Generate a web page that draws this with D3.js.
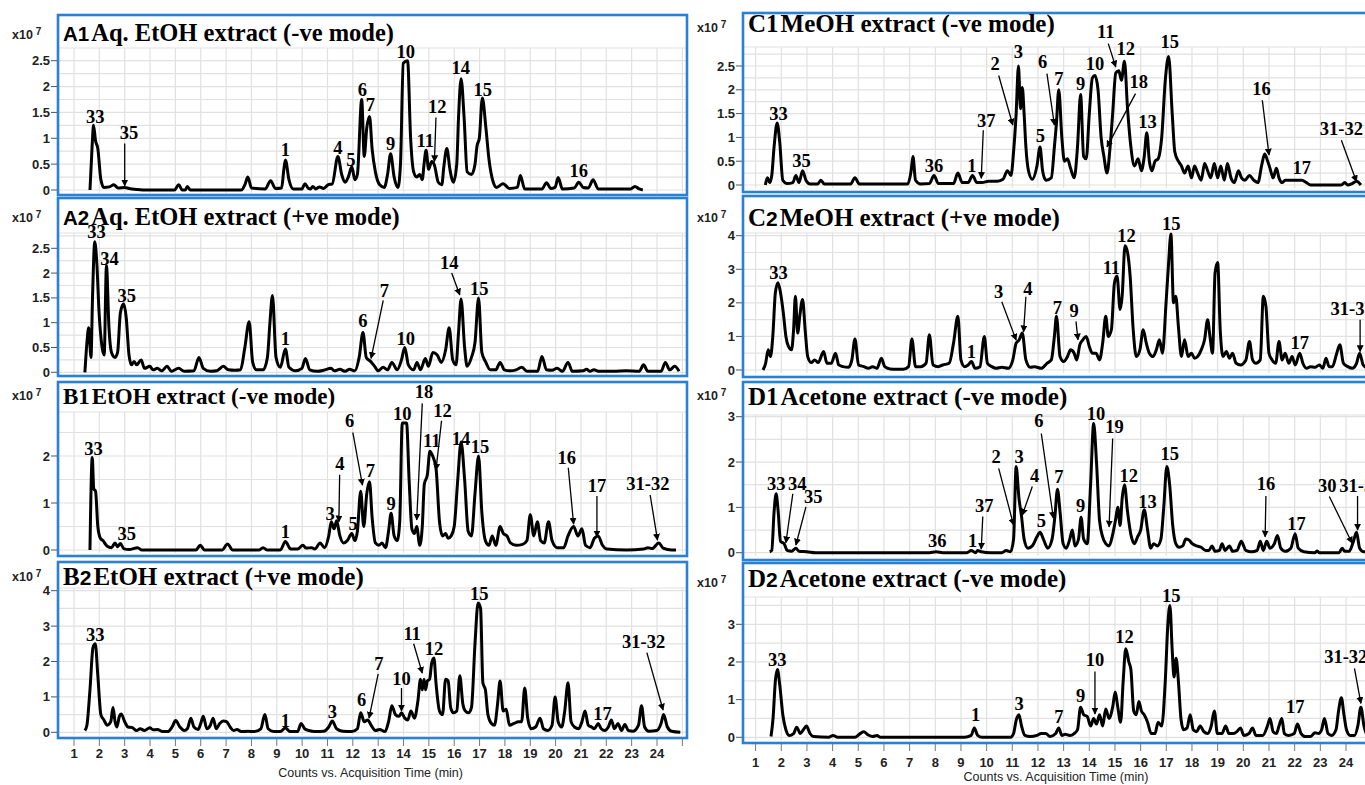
<!DOCTYPE html>
<html>
<head>
<meta charset="utf-8">
<script src="https://cdn.jsdelivr.net/npm/d3@7"></script>
<style>
body{margin:0;background:#fff;}
svg{display:block;}
</style>
</head>
<body>
<script>
// chromatograms, intensity in x10^7 counts, time in min
const a1Trace=[[1.63,0],[1.72,0.9],[1.77,1.25],[1.85,0.95],[1.94,0.8],[2.06,0.2],[2.18,0.05],[2.40,0.06],[2.57,0.1],[2.74,0.04],[3.00,0.05],[3.17,0.03],[3.51,0.01],[3.85,0],[4.96,0],[5.13,0.1],[5.27,0],[5.39,0],[5.47,0.07],[5.59,0],[7.60,0],[7.74,0.1],[7.86,0.25],[8.00,0.04],[8.54,0.02],[8.76,0.18],[8.94,0.03],[9.19,0.04],[9.28,0.4],[9.34,0.58],[9.48,0.2],[9.65,0.02],[9.99,0.02],[10.11,0.12],[10.25,0.03],[10.33,0.02],[10.42,0.07],[10.54,0.02],[10.68,0.06],[10.85,0.03],[11.02,0.1],[11.19,0.12],[11.41,0.65],[11.56,0.3],[11.70,0.15],[11.82,0.25],[11.96,0.45],[12.08,0.2],[12.18,0.3],[12.35,1.75],[12.45,0.65],[12.55,1.2],[12.66,1.42],[12.76,0.8],[12.89,0.35],[13.06,0.1],[13.24,0.05],[13.37,0.3],[13.49,0.7],[13.63,0.25],[13.78,0.05],[13.88,0.5],[13.99,2.45],[14.16,2.5],[14.28,1.0],[14.40,0.35],[14.52,0.25],[14.64,0.3],[14.74,0.2],[14.81,0.5],[14.89,0.77],[14.99,0.4],[15.11,0.55],[15.22,0.48],[15.37,0.15],[15.51,0.1],[15.59,0.45],[15.71,0.8],[15.83,0.4],[15.97,0.15],[16.10,0.5],[16.17,1.4],[16.27,2.15],[16.39,1.4],[16.51,0.35],[16.68,0.3],[16.82,0.5],[16.90,0.85],[16.99,1.0],[17.11,1.78],[17.25,1.2],[17.37,0.6],[17.54,0.15],[17.67,0.05],[17.93,0.12],[18.18,0.03],[18.49,0.05],[18.61,0.28],[18.78,0.02],[19.46,0.02],[19.64,0.14],[19.81,0.03],[19.98,0.05],[20.10,0.24],[20.27,0.02],[20.74,0.04],[20.91,0.15],[21.09,0.05],[21.29,0.04],[21.48,0.2],[21.68,0.02],[22.96,0.02],[23.13,0.07],[23.30,0.02],[23.44,0]];
const a1Labels=[["33",1.84,1.3],["35",3.17,0.98],["1",9.34,0.66],["4",11.41,0.7],["5",11.92,0.47],["6",12.38,1.82],["7",12.69,1.52],["9",13.49,0.77],["10",14.09,2.56],["11",14.86,0.84],["12",15.33,1.48],["14",16.26,2.24],["15",17.13,1.82],["16",20.91,0.25]];
const a1Arrows=[[3.0,0.9,3.0,0.08],[15.28,1.4,15.22,0.55]];

const a2Trace=[[1.43,0],[1.51,0.6],[1.58,0.9],[1.67,0.3],[1.73,1.5],[1.82,2.63],[1.90,2.2],[1.99,1.2],[2.11,0.5],[2.19,0.35],[2.28,2.15],[2.38,0.9],[2.48,0.4],[2.62,0.3],[2.72,0.4],[2.83,1.2],[2.96,1.38],[3.06,1.1],[3.17,0.35],[3.27,0.15],[3.37,0.22],[3.47,0.15],[3.65,0.25],[3.78,0.08],[3.99,0.12],[4.12,0.05],[4.29,0.08],[4.46,0.03],[4.67,0.12],[4.84,0.02],[5.13,0.08],[5.35,0.02],[5.73,0.03],[5.93,0.3],[6.10,0.08],[6.38,0.02],[6.63,0.03],[6.89,0.12],[7.09,0.05],[7.35,0.04],[7.57,0.05],[7.74,0.5],[7.91,1.02],[8.05,0.2],[8.20,0.05],[8.46,0.05],[8.63,0.3],[8.73,1.0],[8.83,1.55],[8.97,0.3],[9.14,0.1],[9.34,0.47],[9.48,0.1],[9.74,0.03],[9.99,0.08],[10.13,0.28],[10.30,0.05],[10.59,0.02],[10.85,0.04],[11.14,0.08],[11.27,0.03],[11.49,0.06],[11.70,0.02],[11.87,0.06],[12.08,0.03],[12.25,0.3],[12.40,0.8],[12.53,0.3],[12.70,0.22],[12.86,0.12],[13.00,0.03],[13.20,0.1],[13.37,0.05],[13.54,0.2],[13.75,0.05],[13.92,0.25],[14.05,0.5],[14.19,0.15],[14.40,0.05],[14.53,0.2],[14.67,0.05],[14.86,0.28],[14.98,0.12],[15.16,0.4],[15.33,0.35],[15.49,0.2],[15.66,0.45],[15.80,0.9],[15.94,0.25],[16.07,0.15],[16.17,0.8],[16.27,1.48],[16.41,0.5],[16.51,0.12],[16.68,0.3],[16.82,0.6],[16.96,1.5],[17.09,0.4],[17.25,0.2],[17.42,0.05],[17.64,0.05],[17.81,0.2],[17.98,0.05],[18.22,0.03],[18.44,0.05],[18.66,0.1],[18.87,0.02],[19.29,0.02],[19.46,0.32],[19.64,0.05],[19.86,0.04],[20.06,0.08],[20.27,0.02],[20.49,0.2],[20.66,0.02],[21.09,0.03],[21.22,0.06],[21.36,0.02],[21.51,0.05],[21.72,0.02],[22.28,0.02],[22.79,0.03],[23.30,0.02],[23.47,0.15],[23.64,0.02],[24.16,0.02],[24.33,0.2],[24.50,0.05],[24.70,0.12],[24.87,0.02]];
const a2Labels=[["33",1.89,2.7],["34",2.40,2.16],["35",3.08,1.42],["1",9.34,0.55],["6",12.40,0.92],["7",13.24,1.52],["10",14.09,0.55],["14",15.80,2.09],["15",16.99,1.56]];
const a2Arrows=[[13.2,1.45,12.72,0.28],[15.9,2.0,16.22,1.56]];

const b1Trace=[[1.63,0],[1.72,1.97],[1.78,1.3],[1.85,1.25],[1.94,0.5],[2.04,0.25],[2.14,0.2],[2.31,0.08],[2.48,0.05],[2.62,0.15],[2.72,0.07],[2.83,0.14],[2.96,0.03],[3.17,0.01],[3.51,0.05],[3.68,0],[5.81,0],[5.98,0.1],[6.15,0],[6.84,0],[7.06,0.13],[7.26,0],[8.29,0],[8.46,0.05],[8.63,0],[9.14,0],[9.34,0.18],[9.55,0.02],[9.82,0.02],[10.03,0.1],[10.16,0.04],[10.37,0.05],[10.50,0.02],[10.71,0.15],[10.88,0.05],[11.05,0.3],[11.15,0.6],[11.26,0.45],[11.36,0.62],[11.49,0.3],[11.63,0.15],[11.78,0.2],[11.96,0.35],[12.08,0.2],[12.18,0.4],[12.31,1.25],[12.43,0.5],[12.55,1.2],[12.66,1.45],[12.76,0.7],[12.89,0.15],[13.03,0.1],[13.15,0.15],[13.29,0.05],[13.41,0.4],[13.51,0.78],[13.63,0.3],[13.75,0.2],[13.85,0.6],[13.95,2.7],[14.12,2.7],[14.22,1.5],[14.33,0.45],[14.43,0.35],[14.52,0.5],[14.64,0.1],[14.74,0.5],[14.82,1.4],[14.94,1.6],[15.04,2.1],[15.15,2.0],[15.28,1.75],[15.42,0.6],[15.54,0.3],[15.66,0.35],[15.76,0.25],[15.88,0.3],[16.00,0.5],[16.14,1.5],[16.27,2.3],[16.41,1.5],[16.55,0.4],[16.68,0.3],[16.82,1.2],[16.96,2.0],[17.09,0.8],[17.23,0.2],[17.37,0.1],[17.50,0.3],[17.64,0.1],[17.81,0.5],[17.94,0.35],[18.08,0.3],[18.22,0.15],[18.44,0.1],[18.70,0.12],[18.87,0.2],[19.00,0.75],[19.14,0.3],[19.28,0.6],[19.41,0.2],[19.55,0.15],[19.72,0.6],[19.86,0.2],[20.06,0.05],[20.32,0.05],[20.49,0.3],[20.71,0.5],[20.88,0.3],[21.04,0.45],[21.18,0.1],[21.36,0.05],[21.53,0.25],[21.68,0.3],[21.85,0.1],[22.02,0.02],[22.79,0],[23.47,0.02],[23.64,0.05],[23.81,0.03],[24.07,0.15],[24.24,0.04],[24.58,0],[24.75,0]];
const b1Labels=[["33",1.77,2.02],["35",3.08,0.21],["1",9.34,0.25],["3",11.10,0.64],["4",11.49,1.7],["5",12.01,0.43],["6",11.87,2.62],["7",12.69,1.56],["9",13.51,0.85],["10",13.95,2.77],["18",14.81,3.23],["12",15.54,2.84],["11",15.11,2.2],["14",16.27,2.23],["15",17.02,2.06],["16",20.44,1.84],["17",21.63,1.24],["31-32",23.64,1.28]];
const b1Arrows=[[11.48,1.6,11.45,0.6],[12.0,2.5,12.38,1.38],[14.74,3.12,14.52,0.64],[15.5,2.75,15.28,1.7],[20.5,1.75,20.71,0.55],[21.63,1.15,21.63,0.28],[23.73,1.17,24.02,0.21]];

const b2Trace=[[1.43,0.05],[1.51,0.2],[1.63,1.2],[1.75,2.4],[1.84,2.5],[1.94,1.6],[2.06,0.5],[2.18,0.35],[2.31,0.2],[2.45,0.3],[2.54,0.7],[2.62,0.3],[2.69,0.15],[2.79,0.45],[2.86,0.52],[3.00,0.3],[3.13,0.15],[3.30,0.13],[3.47,0.05],[3.61,0.1],[3.78,0.05],[3.99,0.13],[4.12,0.07],[4.29,0.08],[4.50,0.02],[4.70,0.02],[4.87,0.15],[5.01,0.33],[5.18,0.15],[5.35,0.05],[5.47,0.1],[5.61,0.4],[5.73,0.15],[5.90,0.08],[6.00,0.25],[6.10,0.45],[6.24,0.1],[6.38,0.2],[6.49,0.4],[6.61,0.1],[6.75,0.25],[6.89,0.32],[7.02,0.3],[7.16,0.15],[7.30,0.05],[7.43,0.08],[7.60,0.02],[7.86,0.03],[8.12,0.02],[8.37,0.1],[8.53,0.5],[8.66,0.1],[8.88,0.02],[9.14,0.02],[9.34,0.12],[9.52,0.02],[9.82,0.02],[9.96,0.25],[10.10,0.1],[10.27,0.05],[10.50,0.02],[10.85,0.03],[11.05,0.15],[11.19,0.32],[11.36,0.1],[11.61,0.03],[11.96,0.02],[12.18,0.1],[12.31,0.55],[12.45,0.3],[12.59,0.35],[12.72,0.2],[12.89,0.05],[13.06,0.08],[13.27,0.02],[13.41,0.3],[13.54,0.75],[13.68,0.5],[13.82,0.45],[13.92,0.55],[14.05,0.4],[14.17,0.35],[14.29,0.6],[14.43,0.4],[14.57,0.9],[14.67,1.5],[14.74,1.2],[14.81,1.5],[14.87,1.2],[14.94,1.45],[15.03,1.5],[15.11,1.95],[15.20,2.1],[15.28,1.4],[15.42,0.6],[15.54,0.5],[15.66,1.5],[15.76,1.45],[15.86,0.7],[15.97,0.55],[16.10,0.6],[16.22,1.6],[16.34,0.8],[16.44,0.6],[16.56,0.55],[16.68,0.7],[16.82,2.5],[16.94,3.65],[17.04,3.5],[17.13,1.4],[17.23,1.2],[17.33,0.5],[17.47,0.25],[17.59,0.2],[17.71,0.8],[17.81,1.45],[17.93,0.6],[18.05,0.65],[18.18,0.2],[18.36,0.25],[18.53,0.3],[18.66,0.3],[18.78,1.25],[18.90,0.4],[19.04,0.1],[19.21,0.15],[19.39,0.4],[19.52,0.1],[19.69,0.05],[19.86,0.2],[19.98,1.0],[20.10,0.3],[20.24,0.15],[20.36,0.6],[20.49,1.4],[20.61,0.3],[20.74,0.15],[20.91,0.1],[21.04,0.3],[21.16,0.6],[21.29,0.2],[21.42,0.15],[21.53,0.1],[21.68,0.25],[21.80,0.1],[21.94,0.05],[22.08,0.15],[22.20,0.35],[22.32,0.1],[22.46,0.25],[22.60,0.05],[22.73,0.22],[22.87,0.05],[23.06,0.03],[23.27,0.2],[23.39,0.75],[23.51,0.15],[23.68,0.03],[23.99,0.05],[24.16,0.25],[24.26,0.5],[24.41,0.15],[24.58,0.03],[24.92,0]];
const b2Labels=[["33",1.84,2.57],["1",9.34,0.16],["3",11.19,0.4],["6",12.35,0.73],["7",13.03,1.76],["10",13.92,1.34],["11",14.34,2.61],["12",15.20,2.19],["15",16.99,3.75],["17",21.85,0.35],["31-32",23.47,2.38]];
const b2Arrows=[[13.0,1.65,12.64,0.4],[13.92,1.25,13.92,0.6],[14.4,2.5,14.74,1.67],[23.6,2.25,24.24,0.63]];

const c1Trace=[[1.38,0],[1.46,0.15],[1.55,0.05],[1.63,0.2],[1.72,0.8],[1.84,1.3],[1.94,0.9],[2.06,0.1],[2.23,0.03],[2.45,0.05],[2.57,0.2],[2.69,0.05],[2.83,0.3],[2.96,0.1],[3.13,0.02],[3.42,0.02],[3.54,0.1],[3.68,0.02],[4.70,0.02],[4.87,0.15],[5.04,0.02],[6.92,0.02],[7.06,0.3],[7.13,0.6],[7.23,0.1],[7.43,0.02],[7.77,0.03],[7.95,0.2],[8.12,0.03],[8.71,0.03],[8.88,0.25],[9.05,0.05],[9.28,0.05],[9.45,0.2],[9.62,0.05],[9.82,0.05],[10.08,0.08],[10.42,0.08],[10.64,0.12],[10.81,0.3],[10.95,0.2],[11.05,0.7],[11.15,1.5],[11.24,2.5],[11.32,1.6],[11.39,2.05],[11.46,1.5],[11.53,0.8],[11.63,0.3],[11.78,0.12],[11.96,0.4],[12.08,0.8],[12.18,0.3],[12.31,0.1],[12.52,0.15],[12.64,0.8],[12.72,1.3],[12.81,2.0],[12.93,1.0],[13.03,0.5],[13.15,0.55],[13.27,0.35],[13.41,0.15],[13.54,0.8],[13.66,1.9],[13.78,0.6],[13.88,0.55],[14.00,1.5],[14.12,2.25],[14.22,2.3],[14.34,2.0],[14.46,1.0],[14.57,0.6],[14.69,0.25],[14.81,0.8],[14.91,1.5],[15.03,2.35],[15.15,2.4],[15.25,2.2],[15.37,2.6],[15.49,1.6],[15.62,0.8],[15.76,0.4],[15.90,0.55],[16.03,0.3],[16.14,0.6],[16.24,1.1],[16.34,0.5],[16.44,0.3],[16.56,0.5],[16.68,0.55],[16.82,1.0],[16.96,2.2],[17.09,2.7],[17.23,1.5],[17.33,0.7],[17.47,0.5],[17.59,0.4],[17.71,0.25],[17.85,0.4],[17.98,0.15],[18.10,0.4],[18.22,0.25],[18.36,0.1],[18.49,0.45],[18.61,0.3],[18.73,0.15],[18.87,0.45],[19.00,0.15],[19.12,0.4],[19.26,0.1],[19.38,0.45],[19.52,0.15],[19.65,0.05],[19.81,0.3],[19.93,0.15],[20.06,0.1],[20.24,0.2],[20.41,0.1],[20.57,0.05],[20.71,0.4],[20.83,0.65],[20.95,0.5],[21.04,0.35],[21.16,0.15],[21.29,0.35],[21.39,0.15],[21.51,0.05],[21.63,0.1],[22.28,0.1],[22.46,0.05],[22.62,0],[23.82,0],[23.95,0.05],[24.07,0],[24.24,0.03],[24.41,0.08],[24.58,0]];
const c1Labels=[["33",1.89,1.36],["35",2.79,0.38],["36",7.95,0.28],["1",9.43,0.28],["37",9.99,1.22],["2",10.33,2.41],["3",11.24,2.66],["5",12.09,0.91],["6",12.18,2.45],["7",12.81,2.1],["9",13.66,1.99],["10",14.22,2.41],["11",14.64,3.08],["12",15.42,2.73],["18",15.93,2.03],["13",16.27,1.19],["15",17.13,2.87],["16",20.71,1.89],["17",22.28,0.24],["31-32",23.82,1.05]];
const c1Arrows=[[9.87,1.15,9.79,0.14],[10.47,2.3,11.02,1.26],[12.35,2.34,12.64,1.26],[14.74,2.97,15.03,2.48],[15.8,1.92,14.69,0.8],[20.74,1.78,21.0,0.63],[23.82,0.94,24.41,0.07]];

const c2Trace=[[1.29,0],[1.39,0.2],[1.49,0.6],[1.58,0.4],[1.67,1.0],[1.77,2.3],[1.87,2.6],[1.97,2.3],[2.08,1.7],[2.18,1.0],[2.28,0.7],[2.40,0.6],[2.48,1.2],[2.55,2.2],[2.64,1.1],[2.72,1.6],[2.83,2.1],[2.93,1.2],[3.03,0.4],[3.17,0.22],[3.30,0.3],[3.44,0.22],[3.65,0.55],[3.78,0.2],[3.95,0.2],[4.11,0.5],[4.24,0.15],[4.40,0.1],[4.62,0.08],[4.75,0.3],[4.87,0.92],[5.01,0.15],[5.22,0.1],[5.39,0.05],[5.56,0.1],[5.73,0.05],[5.90,0.35],[6.03,0.1],[6.24,0.03],[6.49,0.02],[6.75,0.02],[6.96,0.1],[7.09,0.92],[7.23,0.1],[7.43,0.1],[7.64,0.2],[7.77,1.05],[7.91,0.15],[8.12,0.1],[8.29,0.15],[8.54,0.2],[8.71,0.8],[8.88,1.6],[9.00,0.3],[9.14,0.1],[9.28,0.15],[9.41,0.25],[9.55,0.05],[9.74,0.1],[9.91,1.0],[10.03,0.2],[10.20,0.1],[10.37,0.05],[10.59,0.08],[10.85,0.05],[11.02,0.3],[11.15,0.8],[11.27,0.9],[11.39,1.1],[11.53,0.3],[11.70,0.08],[11.87,0.1],[12.13,0.05],[12.35,0.2],[12.52,0.3],[12.64,1.0],[12.72,1.6],[12.86,0.4],[13.00,0.25],[13.15,0.4],[13.27,0.6],[13.41,0.5],[13.51,0.3],[13.63,0.75],[13.75,0.9],[13.88,1.0],[14.00,0.7],[14.12,0.5],[14.26,0.5],[14.40,0.3],[14.52,0.8],[14.64,1.6],[14.74,1.0],[14.86,1.2],[14.98,2.6],[15.08,2.8],[15.20,1.8],[15.28,2.2],[15.39,3.7],[15.49,3.5],[15.59,2.8],[15.71,1.2],[15.83,0.4],[15.97,0.6],[16.10,1.2],[16.22,0.8],[16.34,0.5],[16.48,0.4],[16.61,0.6],[16.73,0.9],[16.85,0.5],[16.99,2.0],[17.09,3.2],[17.18,4.05],[17.28,2.0],[17.37,2.2],[17.47,1.3],[17.59,0.4],[17.71,0.9],[17.85,0.4],[17.98,0.5],[18.10,0.35],[18.22,0.4],[18.36,0.6],[18.49,0.9],[18.61,1.5],[18.70,1.0],[18.80,0.5],[18.90,2.9],[19.00,3.2],[19.10,1.2],[19.21,0.4],[19.34,0.55],[19.46,0.35],[19.58,0.5],[19.72,0.2],[19.89,0.15],[20.10,0.3],[20.24,0.85],[20.36,0.3],[20.49,0.2],[20.66,0.3],[20.78,2.2],[20.88,1.9],[21.00,0.5],[21.12,0.3],[21.26,0.2],[21.39,0.85],[21.51,0.3],[21.63,0.5],[21.77,0.2],[21.90,0.4],[22.02,0.15],[22.20,0.5],[22.32,0.2],[22.46,0.05],[22.62,0.1],[22.79,0.08],[22.96,0.15],[23.10,0.05],[23.22,0.35],[23.34,0.1],[23.47,0.1],[23.64,0.5],[23.76,0.75],[23.90,0.2],[24.07,0.1],[24.24,0.05],[24.41,0.2],[24.53,0.5],[24.67,0.15],[24.84,0.05],[25.0,0.02]];
const c2Labels=[["33",1.89,2.72],["1",9.41,0.35],["3",10.47,2.13],["4",11.61,2.23],["7",12.76,1.68],["9",13.41,1.58],["11",14.86,2.87],["12",15.45,3.81],["15",17.19,4.16],["17",22.20,0.64],["31-32",24.24,1.63]];
const c2Arrows=[[10.59,2.03,11.15,0.89],[11.53,2.18,11.44,1.14],[13.48,1.45,13.56,0.9],[24.55,1.5,24.55,0.55]];

const d1Trace=[[1.55,0.02],[1.63,0.05],[1.72,0.9],[1.80,1.3],[1.88,0.9],[1.97,0.25],[2.11,0.2],[2.23,0.05],[2.40,0.03],[2.57,0.1],[2.69,0.03],[3.00,0.02],[3.34,0],[7.77,0],[8.03,0.02],[8.29,0],[9.23,0],[9.40,0.05],[9.57,0],[9.65,0.05],[9.79,0.02],[10.16,0],[10.59,0],[10.76,0.05],[10.93,0.02],[11.05,0.3],[11.15,1.9],[11.26,1.2],[11.36,0.8],[11.46,0.3],[11.61,0.1],[11.78,0.15],[11.96,0.35],[12.08,0.45],[12.21,0.3],[12.38,0.1],[12.55,0.3],[12.66,0.8],[12.76,1.4],[12.86,0.9],[12.98,0.2],[13.10,0.1],[13.24,0.3],[13.34,0.5],[13.44,0.15],[13.58,0.3],[13.68,0.78],[13.78,0.3],[13.92,0.2],[14.05,1.5],[14.17,2.85],[14.28,2.0],[14.40,0.7],[14.52,0.35],[14.64,0.2],[14.77,0.15],[14.91,0.4],[15.03,0.75],[15.11,1.0],[15.20,0.6],[15.28,1.2],[15.37,1.5],[15.49,0.9],[15.62,0.4],[15.76,0.2],[15.88,0.35],[16.00,0.5],[16.14,0.95],[16.27,0.5],[16.39,0.1],[16.51,0.2],[16.65,0.15],[16.79,0.3],[16.90,1.0],[17.02,1.9],[17.13,1.5],[17.25,0.6],[17.37,0.2],[17.50,0.12],[17.64,0.15],[17.76,0.3],[17.88,0.28],[18.01,0.2],[18.18,0.15],[18.36,0.12],[18.53,0.05],[18.66,0.05],[18.78,0.15],[18.90,0.03],[19.07,0.05],[19.17,0.2],[19.29,0.05],[19.46,0.15],[19.58,0.03],[19.75,0.05],[19.92,0.25],[20.10,0.05],[20.32,0.02],[20.54,0.05],[20.66,0.25],[20.78,0.05],[20.91,0.25],[21.04,0.1],[21.21,0.2],[21.33,0.38],[21.46,0.1],[21.63,0.03],[21.85,0.1],[22.02,0.42],[22.14,0.1],[22.36,0.02],[22.79,0],[22.88,0.04],[22.96,0],[23.73,0],[23.85,0.1],[23.95,0.03],[24.12,0.03],[24.29,0.25],[24.41,0.45],[24.53,0.1],[24.70,0.02],[24.92,0.02]];
const d1Labels=[["33",1.80,1.38],["34",2.62,1.38],["35",3.25,1.1],["36",8.08,0.13],["1",9.45,0.13],["37",9.91,0.9],["2",10.37,1.97],["3",11.27,1.97],["4",11.87,1.57],["5",12.13,0.57],["6",12.04,2.78],["7",12.81,1.53],["9",13.66,0.9],["10",14.26,2.93],["19",14.98,2.63],["12",15.54,1.57],["13",16.27,0.98],["15",17.13,2.04],["16",20.88,1.38],["17",22.07,0.5],["30",23.27,1.35],["31-32",24.58,1.35]];
const d1Arrows=[[2.45,1.3,2.18,0.22],[2.96,1.01,2.57,0.17],[9.85,0.8,9.79,0.08],[10.47,1.86,11.05,0.61],[11.78,1.46,11.39,0.83],[12.13,2.63,12.6,0.76],[14.91,2.52,14.77,0.57],[20.88,1.25,20.85,0.35],[23.35,1.24,24.24,0.21],[24.45,1.25,24.45,0.5]];

const d2Trace=[[1.60,0.02],[1.68,0.5],[1.77,1.5],[1.85,1.8],[1.94,1.4],[2.06,0.6],[2.18,0.2],[2.31,0.05],[2.48,0.1],[2.60,0.27],[2.74,0.1],[2.86,0.2],[2.98,0.3],[3.12,0.1],[3.25,0.02],[3.85,0],[4.02,0.05],[4.19,0],[4.87,0],[5.04,0.08],[5.21,0.15],[5.39,0.06],[5.56,0.02],[5.73,0.05],[5.86,0],[9.14,0],[9.40,0.05],[9.52,0.25],[9.65,0.05],[9.82,0],[10.93,0],[11.05,0.1],[11.15,0.45],[11.26,0.6],[11.36,0.3],[11.49,0.05],[11.70,0.02],[11.96,0.05],[12.13,0.1],[12.30,0.1],[12.47,0.02],[12.69,0.1],[12.81,0.25],[12.93,0.05],[13.06,0.08],[13.24,0.05],[13.41,0.1],[13.54,0.2],[13.66,0.8],[13.78,0.6],[13.92,0.55],[14.05,0.3],[14.17,0.5],[14.28,0.35],[14.40,0.6],[14.52,0.3],[14.64,0.75],[14.77,0.5],[14.91,0.8],[15.01,1.2],[15.11,0.8],[15.22,0.4],[15.32,1.5],[15.42,2.35],[15.54,2.0],[15.62,1.8],[15.73,0.7],[15.83,0.6],[15.93,0.95],[16.03,0.7],[16.14,0.6],[16.27,0.4],[16.41,0.1],[16.56,0.1],[16.68,0.4],[16.82,0.3],[16.96,1.5],[17.06,3.0],[17.14,3.5],[17.23,2.3],[17.30,1.6],[17.38,2.1],[17.47,1.5],[17.57,0.5],[17.67,0.2],[17.81,0.25],[17.93,0.6],[18.05,0.2],[18.18,0.15],[18.32,0.3],[18.46,0.15],[18.61,0.1],[18.75,0.3],[18.87,0.7],[18.99,0.1],[19.17,0.1],[19.31,0.3],[19.44,0.1],[19.61,0.1],[19.75,0.15],[19.89,0.25],[20.02,0.05],[20.22,0.1],[20.36,0.25],[20.49,0.05],[20.76,0.05],[20.94,0.3],[21.04,0.5],[21.16,0.15],[21.29,0.1],[21.39,0.3],[21.50,0.5],[21.60,0.1],[21.77,0.05],[21.98,0.1],[22.11,0.35],[22.25,0.1],[22.42,0.02],[22.62,0.02],[22.79,0.12],[22.93,0.1],[23.05,0.2],[23.16,0.5],[23.30,0.1],[23.44,0.05],[23.61,0.2],[23.71,0.7],[23.82,1.05],[23.92,0.6],[24.02,0.2],[24.16,0.05],[24.33,0.05],[24.46,0.3],[24.58,0.8],[24.70,0.3],[24.84,0.05],[25.01,0.02]];
const d2Labels=[["33",1.84,1.88],["1",9.57,0.42],["3",11.27,0.73],["7",12.81,0.37],["9",13.66,0.95],["10",14.22,1.88],["12",15.37,2.5],["15",17.19,3.6],["17",22.02,0.64],["31-32",23.99,1.96]];
const d2Arrows=[[14.22,1.75,14.22,0.62],[24.33,1.83,24.58,0.9]];

const timeTicks=d3.range(1,25);
const tickMarks=d3.range(1,26);
const halfTicks=[0,0.5,1,1.5,2,2.5];
const unitTicks3=[0,1,2];
const unitTicks4=[0,1,2,3];
const unitTicks5=[0,1,2,3,4];

const SANS="'Liberation Sans', Arial, sans-serif";
const SERIF="'Liberation Serif', 'Times New Roman', serif";

// column geometry
const cols={
    L:{frame:[58,687],range:[74,657],axisY:738,labelY:758,titleY:777},
    R:{frame:[743,1372],range:[755.6,1346],axisY:743,labelY:767,titleY:781}
};

const panels=[
    {col:"L",id:[["A1","s"]],title:"Aq. EtOH extract (-ve mode)",fs:24.5,frame:[15,195],zeroY:190,topV:2.5,topY:60.7,plotTop:48,ticks:halfTicks,step:0.25,x10Y:39,titleY:41,trace:a1Trace,labels:a1Labels,arrows:a1Arrows},
    {col:"L",id:[["A2","s"]],title:"Aq. EtOH extract (+ve mode)",fs:24.5,frame:[198,376],zeroY:372.3,topV:2.5,topY:248.3,plotTop:233,ticks:halfTicks,step:0.25,x10Y:222,titleY:225,trace:a2Trace,labels:a2Labels,arrows:a2Arrows},
    {col:"L",id:[["B1","r"]],title:"EtOH extract (-ve mode)",fs:23,frame:[382,556],zeroY:550,topV:2,topY:456,plotTop:412,ticks:unitTicks3,step:0.5,x10Y:400,titleY:404,trace:b1Trace,labels:b1Labels,arrows:b1Arrows},
    {col:"L",id:[["B","r"],["2","s"]],title:"EtOH extract (+ve mode)",fs:25,frame:[562,738],zeroY:732.3,topV:4,topY:590.7,plotTop:588,ticks:unitTicks5,step:0.5,x10Y:581,titleY:585,trace:b2Trace,labels:b2Labels,arrows:b2Arrows},
    {col:"R",id:[["C1","r"]],title:"MeOH extract (-ve mode)",fs:25,frame:[13,192],zeroY:185,topV:2.5,topY:66,plotTop:47,ticks:halfTicks,step:0.25,x10Y:32,titleY:32,trace:c1Trace,labels:c1Labels,arrows:c1Arrows},
    {col:"R",id:[["C","r"],["2","s"]],title:"MeOH extract (+ve mode)",fs:25,frame:[196,377],zeroY:370,topV:4,topY:235.7,plotTop:233,ticks:unitTicks5,step:0.5,x10Y:222,titleY:226,trace:c2Trace,labels:c2Labels,arrows:c2Arrows},
    {col:"R",id:[["D1","r"]],title:"Acetone extract (-ve mode)",fs:25,frame:[382,560],zeroY:552.7,topV:3,topY:416.7,plotTop:415,ticks:unitTicks4,step:0.5,x10Y:400,titleY:405,trace:d1Trace,labels:d1Labels,arrows:d1Arrows},
    {col:"R",id:[["D","r"],["2","s"]],title:"Acetone extract (-ve mode)",fs:25,frame:[563,743],zeroY:737.3,topV:3,topY:624.3,plotTop:597,ticks:unitTicks4,step:0.5,x10Y:587,titleY:587,trace:d2Trace,labels:d2Labels,arrows:d2Arrows}
];

const svg=d3.select("body").append("svg").attr("width",1365).attr("height",785);
const defs=svg.append("defs");
defs.append("marker").attr("id","arr")
    .attr("viewBox","0 0 10 10").attr("refX",9).attr("refY",5)
    .attr("markerWidth",7).attr("markerHeight",7).attr("markerUnits","userSpaceOnUse")
    .attr("orient","auto")
    .append("path").attr("d","M0,0 L10,5 L0,10 Z").attr("fill","#000");

panels.forEach(function(p,i){
    let c=cols[p.col];
    let fx0=c.frame[0], fx1=c.frame[1];
    let x=d3.scaleLinear().domain([1,24]).range(c.range);
    let y=d3.scaleLinear().domain([0,p.topV]).range([p.zeroY,p.topY]);
    let g=svg.append("g");

    defs.append("clipPath").attr("id","clip"+i)
        .append("rect").attr("x",fx0).attr("y",p.frame[0]).attr("width",fx1-fx0).attr("height",p.frame[1]-p.frame[0]);

    let grid=g.append("g").attr("clip-path","url(#clip"+i+")");
    //vertical grid each minute
    grid.selectAll("line.v").data(tickMarks).enter().append("line")
        .attr("x1",d=>x(d)).attr("x2",d=>x(d))
        .attr("y1",p.plotTop).attr("y2",p.zeroY+3)
        .attr("stroke","#e1e1e1").attr("stroke-width",1.2);
    let maxV=y.invert(p.plotTop);
    let hv=d3.range(0,maxV+0.001,p.step);
    grid.selectAll("line.h").data(hv).enter().append("line")
        .attr("x1",fx0).attr("x2",fx1)
        .attr("y1",d=>y(d)).attr("y2",d=>y(d))
        .attr("stroke","#e1e1e1").attr("stroke-width",1.2);
    grid.append("line").attr("x1",fx0).attr("x2",fx1).attr("y1",p.plotTop).attr("y2",p.plotTop)
        .attr("stroke","#e1e1e1").attr("stroke-width",1.2);

    //trace
    grid.append("path").datum(p.trace)
        .attr("fill","none").attr("stroke","#000").attr("stroke-width",3)
        .attr("stroke-linejoin","round")
        .attr("d",d3.line().x(d=>x(d[0])).y(d=>y(d[1])).curve(d3.curveMonotoneX));

    //frame
    g.append("rect").attr("x",fx0).attr("y",p.frame[0]).attr("width",fx1-fx0).attr("height",p.frame[1]-p.frame[0])
        .attr("fill","none").attr("stroke","#2a7fd6").attr("stroke-width",2.6);

    //y axis ticks
    let ya=g.append("g");
    ya.selectAll("line").data(p.ticks).enter().append("line")
        .attr("x1",fx0-7).attr("x2",fx0-1).attr("y1",d=>y(d)).attr("y2",d=>y(d))
        .attr("stroke","#555").attr("stroke-width",1);
    ya.selectAll("text").data(p.ticks).enter().append("text")
        .attr("x",fx0-8).attr("y",d=>y(d)+4.5)
        .attr("text-anchor","end").attr("font-family",SANS).attr("font-weight","bold")
        .attr("font-size",13).attr("fill","#222")
        .text(d=>d3.format("~g")(d));
    let xt=g.append("text").attr("x",fx0-46).attr("y",p.x10Y)
        .attr("font-family",SANS).attr("font-weight","bold").attr("font-size",12.5).attr("fill","#222");
    xt.append("tspan").text("x10");
    xt.append("tspan").attr("dx",3).attr("dy",-4).attr("font-size",10).text("7");

    //title
    let tt=g.append("text").attr("x",fx0+5).attr("y",p.titleY).attr("font-weight","bold").attr("fill","#000");
    p.id.forEach(function(part){
        tt.append("tspan")
            .attr("font-family",part[1]==="s"?SANS:SERIF)
            .attr("font-size",part[1]==="s"?p.fs-4:p.fs)
            .text(part[0]);
    });
    tt.append("tspan").attr("font-family",SERIF).attr("font-size",p.fs).attr("dx",2).text(p.title);

    //peak labels
    g.selectAll("text.pk").data(p.labels).enter().append("text")
        .attr("x",d=>x(d[1])).attr("y",d=>y(d[2]))
        .attr("text-anchor","middle").attr("font-family",SERIF).attr("font-weight","bold")
        .attr("font-size",18.5).attr("fill","#000")
        .text(d=>d[0]);
    g.selectAll("line.ar").data(p.arrows).enter().append("line")
        .attr("x1",d=>x(d[0])).attr("y1",d=>y(d[1]))
        .attr("x2",d=>x(d[2])).attr("y2",d=>y(d[3]))
        .attr("stroke","#000").attr("stroke-width",1.3)
        .attr("marker-end","url(#arr)");
});

//bottom time axes
Object.keys(cols).forEach(function(k){
    let c=cols[k];
    let x=d3.scaleLinear().domain([1,24]).range(c.range);
    let g=svg.append("g");
    g.selectAll("line").data(tickMarks.filter(d=>x(d)<c.frame[1])).enter().append("line")
        .attr("x1",d=>x(d)).attr("x2",d=>x(d)).attr("y1",c.axisY+1).attr("y2",c.axisY+8)
        .attr("stroke","#777").attr("stroke-width",1);
    g.selectAll("text").data(timeTicks).enter().append("text")
        .attr("x",d=>x(d)).attr("y",c.labelY)
        .attr("text-anchor","middle").attr("font-family",SANS).attr("font-weight","bold")
        .attr("font-size",13).attr("fill","#222").text(d=>d);
    g.append("text").attr("x",x(12.7)).attr("y",c.titleY)
        .attr("text-anchor","middle").attr("font-family",SANS)
        .attr("font-size",12.5).attr("fill","#222")
        .text("Counts vs. Acquisition Time (min)");
});
</script>
</body>
</html>
